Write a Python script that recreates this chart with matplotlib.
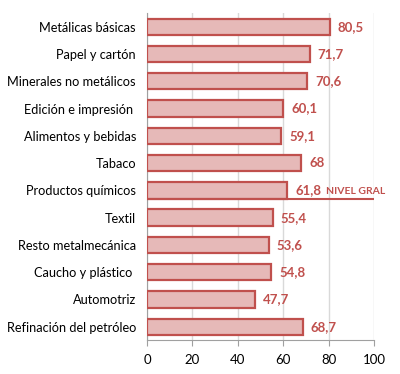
import matplotlib
matplotlib.use("Agg")
import matplotlib.pyplot as plt

categories = ["Metálicas básicas", "Papel y cartón", "Minerales no metálicos",
              "Edición e impresión ", "Alimentos y bebidas", "Tabaco",
              "Productos químicos", "Textil", "Resto metalmecánica",
              "Caucho y plástico ", "Automotriz", "Refinación del petróleo"]
values = [80.5, 71.7, 70.6, 60.1, 59.1, 68, 61.8, 55.4, 53.6, 54.8, 47.7, 68.7]
labels = ["80,5", "71,7", "70,6", "60,1", "59,1", "68", "61,8", "55,4", "53,6", "54,8", "47,7", "68,7"]
xticks = [0, 20, 40, 60, 80, 100]
nivel_label = "NIVEL GRAL"
nivel_index = 6

plt.rcParams['font.family'] = ['Lato', 'DejaVu Sans']

fig = plt.figure(figsize=(4.0, 3.74), dpi=100)
ax = fig.add_axes([0.3675, 0.09, 0.5675, 0.875])

pos = list(range(len(categories)))
bh = 0.6
ax.barh(pos, values, height=bh, color="#E6B9B8", edgecolor="#C0504D", linewidth=1.6, zorder=3)
for p, v, l in zip(pos, values, labels):
    ax.text(v + 3.5, p, l, va="center", ha="left", color="#C0504D",
            fontsize=9.5, fontweight="bold", zorder=4)

# general level line
yl = nivel_index + bh / 2
ax.plot([0, 100], [yl, yl], color="#C0504D", linewidth=1.5, zorder=4, solid_capstyle="butt")
ax.text(79, nivel_index + 0.05, nivel_label, va="center", ha="left", color="#C0504D",
        fontsize=7.5, fontweight="bold", zorder=4)

ax.set_yticks(pos)
ax.set_yticklabels(categories, fontsize=9.2, color="#000000")
ax.set_ylim(len(categories) - 0.5, -0.5)
ax.set_xlim(0, 100)
ax.set_xticks(xticks)
ax.set_xticklabels([str(t) for t in xticks], fontsize=9.5)
ax.tick_params(axis="y", length=0, pad=8)
ax.tick_params(axis="x", length=4, color="#A0A0A0", pad=6)
ax.grid(axis="x", color="#D9D9D9", linewidth=1, zorder=0)
ax.set_axisbelow(True)
for s in ["top", "right"]:
    ax.spines[s].set_visible(False)
ax.spines["left"].set_color("#A0A0A0")
ax.spines["bottom"].set_color("#A0A0A0")

fig.savefig("out.png", dpi=100)
